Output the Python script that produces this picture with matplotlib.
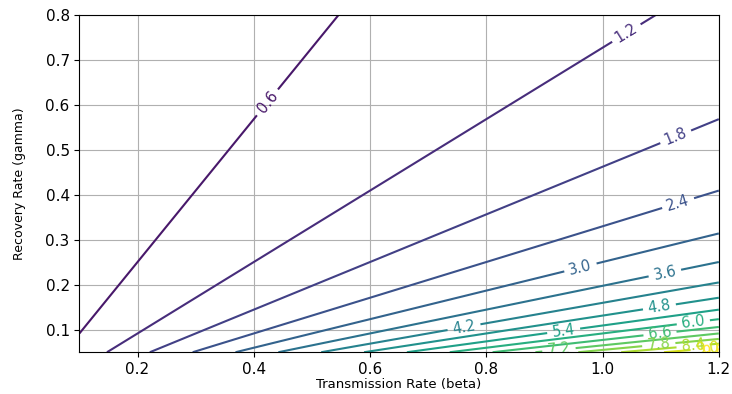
#!/usr/bin/env python3
import matplotlib
matplotlib.use('Agg')
import matplotlib.pyplot as plt
import numpy as np

# axis ranges
BETA_RANGE = [0.1, 1.2]
GAMMA_RANGE = [0.05, 0.8]
# contour levels (0.0 has no line inside the plotted range, it only sets the colour scale)
LEVELS = [0.0, 0.6, 1.2, 1.8, 2.4, 3.0, 3.6, 4.2, 4.8, 5.4, 6.0, 6.6, 7.2, 7.8, 8.4, 9.0, 9.6]
# fitted from the line positions: R = beta / (K * (gamma + MU))
K = 1.05
MU = 0.067
# approximate label spots (beta, gamma)
LABEL_SPOTS = [(0.436, 0.592), (1.042, 0.757), (1.126, 0.528), (1.131, 0.377),
               (0.962, 0.238), (1.107, 0.227), (0.762, 0.103), (1.098, 0.149),
               (0.933, 0.098), (1.156, 0.118), (1.099, 0.089), (0.925, 0.055),
               (1.097, 0.063), (1.156, 0.06), (1.18, 0.058), (1.19, 0.055)]


def main():
    beta = np.linspace(BETA_RANGE[0], BETA_RANGE[1], 200)
    gamma = np.linspace(GAMMA_RANGE[0], GAMMA_RANGE[1], 200)
    B, G = np.meshgrid(beta, gamma)
    R = B / (K * (G + MU))

    fig = plt.figure(figsize=(7.32, 3.94), dpi=100)
    ax = fig.add_axes([0.1085, 0.106, 0.8735, 0.8567])
    cs = ax.contour(B, G, R, levels=LEVELS, cmap='viridis')
    ax.clabel(cs, inline=True, fontsize=10.5, fmt='%.1f', manual=LABEL_SPOTS)
    ax.set_xlabel('Transmission Rate (beta)', fontsize=9.5, labelpad=1)
    ax.set_ylabel('Recovery Rate (gamma)', fontsize=9, labelpad=14)
    ax.tick_params(labelsize=11)
    ax.grid(True)
    fig.savefig('out.png', dpi=100)


if __name__ == "__main__":
    main()
